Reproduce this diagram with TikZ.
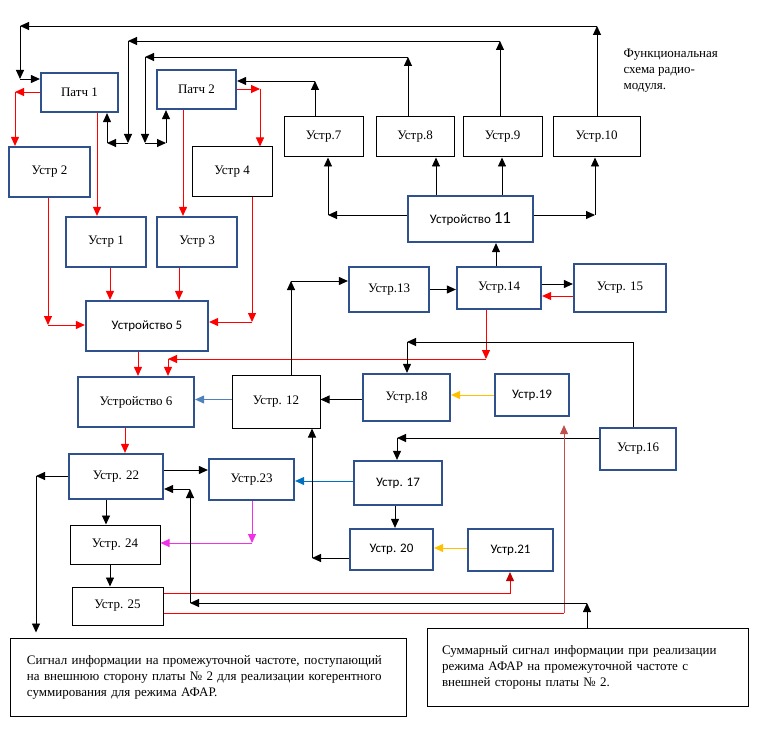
\documentclass[tikz,border=0pt]{standalone}
\usepackage{fontspec}
\setmainfont{Liberation Serif}
\newfontfamily\carlito{Carlito}
\usetikzlibrary{arrows.meta}
\definecolor{boxblue}{RGB}{47,82,143}
\definecolor{steelline}{RGB}{79,129,189}
\definecolor{azureline}{RGB}{0,112,192}
\definecolor{amberline}{RGB}{255,192,0}
\definecolor{pinkline}{RGB}{240,50,230}
\definecolor{darkredline}{RGB}{192,0,0}
\definecolor{brickline}{RGB}{192,80,77}
\tikzset{sz/.style n args={2}{minimum width=#1,minimum height=#2}}
\begin{document}
\begin{tikzpicture}[x=1pt,y=-1pt,
  font=\fontsize{13}{16}\selectfont,
  bluebox/.style={draw=boxblue,line width=2.2pt,inner sep=0pt},
  blackbox/.style={draw=black,line width=1pt,inner sep=0pt},
  sans/.style={font=\fontsize{13}{16}\selectfont\carlito},
  tip/.style={-{Triangle[length=9pt,width=8pt]}},
  arr/.style={line width=0.9pt,tip},
  redarr/.style={arr,red},
  amberarr/.style={arr,amberline},
  steelarr/.style={arr,steelline},
  azurearr/.style={arr,azureline},
  pinkarr/.style={arr,pinkline},
  brickarr/.style={arr,brickline},
  redline/.style={line width=0.9pt,red}]
\useasboundingbox (0,0) rectangle (766,730);

% блоки
\node[bluebox,sz={77}{39}] (p1) at (79.5,92.5) {Патч 1};
\node[bluebox,sz={79}{39}] (p2) at (196.5,89.5) {Патч 2};
\node[bluebox,sz={81}{50}] (u2) at (49.5,172) {Устр 2};
\node[blackbox,sz={80}{50}] (u4) at (232,172) {Устр 4};
\node[bluebox,sz={80}{50}] (u1) at (106,242) {Устр 1};
\node[bluebox,sz={80}{50}] (u3) at (197,242) {Устр 3};
\node[bluebox,sans,sz={122}{50}] (u5) at (147,326) {Устройство 5};
\node[blackbox,sz={79}{40}] (u7) at (323.5,137) {Устр.7};
\node[blackbox,sz={78}{40}] (u8) at (415,137) {Устр.8};
\node[blackbox,sz={79}{40}] (u9) at (502.5,137) {Устр.9};
\node[blackbox,sz={87}{40}] (u10) at (596.5,137) {Устр.10};
\node[bluebox,sans,sz={125}{46}] (u11) at (470.5,219) {Устройство {\fontsize{17}{17}\selectfont 11}};
\node[bluebox,sz={80}{45}] (u13) at (389,289.5) {Устр.13};
\node[bluebox,sz={84}{42}] (u14) at (499,288) {Устр.14};
\node[bluebox,sz={92}{48}] (u15) at (620,288) {Устр. 15};
\node[bluebox,sz={116}{50}] (u6) at (136,402) {Устройство 6};
\node[blackbox,sz={88}{53}] (u12) at (276,401.5) {Устр. 12};
\node[bluebox,sz={87}{47}] (u18) at (406.5,397.5) {Устр.18};
\node[bluebox,sans,sz={74}{42}] (u19) at (532,395) {Устр.19};
\node[bluebox,sz={76}{42}] (u16) at (638,449) {Устр.16};
\node[bluebox,sans,sz={88}{44}] (u17) at (398,483) {Устр. 17};
\node[bluebox,sans,sz={83}{41}] (u20) at (391.5,549.5) {Устр. 20};
\node[bluebox,sans,sz={85}{42}] (u21) at (510.5,550) {Устр.21};
\node[bluebox,sz={94}{45}] (u22) at (116,476.5) {Устр. 22};
\node[bluebox,sz={85}{41}] (u23) at (251.5,479.5) {Устр.23};
\node[blackbox,sz={90}{39}] (u24) at (115,544.5) {Устр. 24};
\node[blackbox,sz={91}{38}] (u25) at (117.5,606) {Устр. 25};
\node[blackbox,sz={396}{78},text width=362,inner xsep=17,align=left] (t1) at (208,677)
  {Сигнал информации на промежуточной частоте, поступающий\\
   на внешнюю сторону платы № 2 для реализации когерентного\\
   суммирования для режима АФАР.};
\node[blackbox,sz={321}{78},text width=291,inner xsep=15,align=left] (t2) at (587.5,667)
  {Суммарный сигнал информации при реализации\\
   режима АФАР на промежуточной частоте с\\
   внешней стороны платы № 2.};
\node[align=left,anchor=north west] (title) at (620,45) {Функциональная\\схема радио-\\модуля.};

% красные связи от патчей
\coordinate (a1) at (15,92);
\draw[redarr] (p1.west |- a1) -- (a1);
\draw[redarr] (a1) -- (a1 |- u2.north);
\draw[redarr] ([xshift=17.5]p1.south) -- ([xshift=17.5]p1.south |- u1.north);
\draw[redarr] ([xshift=-13.5]p2.south) -- ([xshift=-13.5]p2.south |- u3.north);
\coordinate (a2) at (260,89);
\draw[redarr] (p2.east |- a2) -- (a2);
\draw[redarr] (a2) -- (a2 |- u4.north);

% к устройству 5
\coordinate (a3) at (48,325);
\draw[redarr] (a3 |- u2.south) -- (a3);
\draw[redarr] (a3) -- (a3 -| u5.west);
\draw[redarr] ([xshift=4]u1.south) -- ([xshift=4]u1.south |- u5.north);
\draw[redarr] ([xshift=-18]u3.south) -- ([xshift=-18]u3.south |- u5.north);
\coordinate (a4) at (252,322);
\draw[redarr] (a4 |- u4.south) -- (a4);
\draw[redarr] (a4) -- (a4 -| u5.east);

% к устройству 6
\draw[redarr] ([xshift=-9]u5.south) -- ([xshift=-9]u5.south |- u6.north);
\coordinate (a5) at (486,359);
\coordinate (a6) at (168,359);
\draw[redarr] (a5 |- u14.south) -- (a5);
\draw[redarr] (a5) -- (a6);
\draw[redarr] (a6) -- (a6 |- u6.north);
\draw[redarr] ([xshift=-11]u6.south) -- ([xshift=-11]u6.south |- u22.north);
\draw[redarr] ([yshift=-8]u15.west) -- ([yshift=-8]u15.west -| u14.east);

% устройство 11 и устр. 7-10
\draw[arr] ([yshift=4]u14.east) -- ([yshift=4]u14.east -| u15.west);
\draw[arr] (u13.east) -- (u13.east -| u14.west);
\draw[arr] ([xshift=-3]u14.north) -- ([xshift=-3]u14.north |- u11.south);
\coordinate (b1) at (291,281);
\draw[arr] (b1 |- u12.north) -- (b1);
\draw[arr] (b1) -- (b1 -| u13.west);
\coordinate (b2) at (328,215);
\draw[arr] (b2 -| u11.west) -- (b2);
\draw[arr] (b2) -- (b2 |- u7.south);
\draw[arr] ([xshift=-34.5]u11.north) -- ([xshift=-34.5]u11.north |- u8.south);
\draw[arr] ([xshift=31.5]u11.north) -- ([xshift=31.5]u11.north |- u9.south);
\coordinate (b3) at (595,215);
\draw[arr] (b3 -| u11.east) -- (b3);
\draw[arr] (b3) -- (b3 |- u10.south);

% обратно к патчам
\coordinate (c1) at (315,81);
\draw[arr] (c1 |- u7.north) -- (c1);
\draw[arr] (c1) -- (c1 -| p2.east);
\coordinate (c2) at (408,57);
\coordinate (c3) at (145,57);
\coordinate (c4) at (145,143);
\coordinate (c5) at (166,143);
\draw[arr] (c2 |- u8.north) -- (c2);
\draw[arr] (c2) -- (c3);
\draw[arr] (c3) -- (c4);
\draw[arr] (c4) -- (c5);
\draw[arr] (c5) -- (c5 |- p2.south);
\coordinate (d1) at (500,41);
\coordinate (d2) at (128,41);
\coordinate (d3) at (128,143);
\coordinate (d4) at (107,143);
\draw[arr] (d1 |- u9.north) -- (d1);
\draw[arr] (d1) -- (d2);
\draw[arr] (d2) -- (d3);
\draw[arr] (d3) -- (d4);
\draw[arr] (d4) -- (d4 |- p1.south);
\coordinate (e1) at (597,26);
\coordinate (e2) at (20,26);
\coordinate (e3) at (20,79);
\draw[arr] (e1 |- u10.north) -- (e1);
\draw[arr] (e1) -- (e2);
\draw[arr] (e2) -- (e3);
\draw[arr] (e3) -- (e3 -| p1.west);

% середина
\coordinate (f1) at (633,342);
\coordinate (f2) at (407,342);
\draw[arr] (f1 |- u16.north) -- (f1) -- (f2);
\draw[arr] (f2) -- (f2 |- u18.north);
\draw[arr] ([yshift=-2]u18.west) -- ([yshift=-2]u18.west -| u12.east);
\draw[amberarr] (u19.west) -- (u19.west -| u18.east);
\draw[steelarr] ([yshift=2]u12.west) -- ([yshift=2]u12.west -| u6.east);
\coordinate (g1) at (397,438);
\draw[arr] (g1 -| u16.west) -- (g1);
\draw[arr] (g1) -- (g1 |- u17.north);
\draw[azurearr] ([yshift=2]u17.west) -- ([yshift=2]u17.west -| u23.east);
\draw[arr] ([xshift=-3]u17.south) -- ([xshift=-3]u17.south |- u20.north);
\draw[amberarr] ([yshift=2]u21.west) -- ([yshift=2]u21.west -| u20.east);
\coordinate (g2) at (312,558);
\draw[arr] (g2 -| u20.west) -- (g2);
\draw[arr] (g2) -- (g2 |- u12.south);

% низ
\draw[arr] ([yshift=6.5]u22.east) -- ([yshift=6.5]u22.east -| u23.west);
\coordinate (h1) at (36,476);
\draw[arr] (h1 -| u22.west) -- (h1);
\draw[arr,shorten >=5pt] (h1) -- (h1 |- t1.north);
\draw[arr] ([xshift=-10]u22.south) -- ([xshift=-10]u22.south |- u24.north);
\coordinate (h2) at (252,543);
\draw[pinkarr] (h2 |- u23.south) -- (h2);
\draw[pinkarr] (h2) -- (h2 -| u24.east);
\draw[arr] ([xshift=-5]u24.south) -- ([xshift=-5]u24.south |- u25.north);

% от устр. 25
\coordinate (k1) at (510,593);
\draw[redline,-{Triangle[length=9pt,width=8pt,color=darkredline]}] (k1 -| u25.east) -- (k1) -- (k1 |- u21.south);
\coordinate (k2) at (564,613);
\draw[redline] (k2 -| u25.east) -- (k2);
\draw[brickarr,shorten >=8pt] (k2) -- (k2 |- u19.south);
\coordinate (m1) at (587,603);
\coordinate (m2) at (190,603);
\coordinate (m3) at (190,489);
\draw[arr] (m1 |- t2.north) -- (m1);
\draw[arr] (m1) -- (m2);
\draw[arr] (m2) -- (m3);
\draw[arr] (m3) -- (m3 -| u22.east);
\end{tikzpicture}
\end{document}
